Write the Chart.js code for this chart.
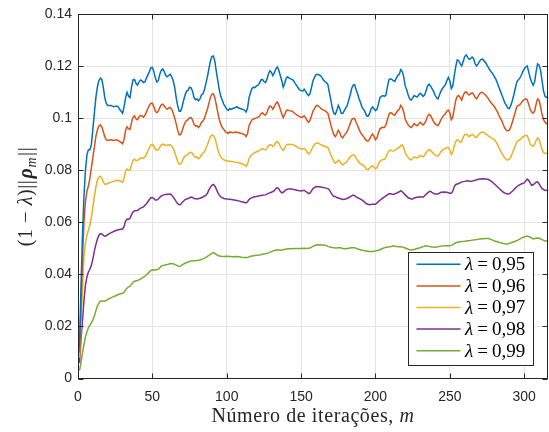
<!DOCTYPE html>
<html>
<head>
<meta charset="utf-8">
<title>Norma de ρ por iteração</title>
<script src="https://cdn.jsdelivr.net/npm/chart.js@4.4.1/dist/chart.umd.min.js"></script>
<style>
  html, body { margin: 0; padding: 0; background: #ffffff; }
  canvas { display: block; }
</style>
</head>
<body>
<canvas id="plot" width="549" height="432"></canvas>
<script>
// Forgetting factors shown in the legend
const lambdaLabels = ['0,95', '0,96', '0,97', '0,98', '0,99'];

// Tick values of both axes
const xTickValues = [0, 50, 100, 150, 200, 250, 300];
const yTickValues = [0, 0.02, 0.04, 0.06, 0.08, 0.1, 0.12, 0.14];

// (1 - lambda)·||rho_m|| against the iteration index m, as [m, value]
const lam95 = [[1,0.012],[2,0.035],[3,0.055],[4,0.070],[5,0.080],[6,0.086],[7,0.088],[8,0.088],[9,0.090],[10,0.096],[11,0.102],[12,0.108],[13,0.112],[14,0.1145],[15,0.1155],[16,0.115],[17,0.112],[18,0.108],[19,0.1058],[20,0.105],[22,0.105],[24,0.1045],[26,0.1048],[27,0.1045],[28,0.1035],[30,0.102],[31,0.1045],[32,0.108],[33,0.110],[34,0.1085],[35,0.108],[36,0.112],[37,0.1148],[38,0.115],[39,0.1135],[40,0.1128],[41,0.114],[42,0.1148],[43,0.1145],[44,0.1138],[45,0.114],[46,0.1155],[48,0.118],[49,0.1195],[50,0.1196],[51,0.118],[52,0.1155],[53,0.114],[54,0.1145],[55,0.117],[56,0.1185],[57,0.119],[58,0.118],[59,0.1165],[60,0.116],[61,0.1165],[62,0.117],[63,0.116],[64,0.1145],[65,0.112],[66,0.108],[67,0.105],[68,0.1028],[69,0.1028],[70,0.1045],[71,0.107],[72,0.109],[73,0.1105],[74,0.1108],[75,0.112],[76,0.1118],[77,0.1105],[78,0.108],[79,0.1072],[80,0.1075],[81,0.1068],[82,0.1075],[83,0.109],[84,0.1095],[85,0.111],[86,0.1135],[87,0.116],[88,0.119],[89,0.122],[90,0.1238],[91,0.124],[92,0.122],[93,0.118],[94,0.1145],[95,0.111],[96,0.1085],[97,0.107],[98,0.1055],[99,0.1045],[100,0.1035],[101,0.1031],[102,0.1038],[103,0.1035],[104,0.1038],[106,0.1042],[107,0.1045],[108,0.104],[110,0.1036],[112,0.1032],[113,0.1025],[114,0.104],[115,0.108],[116,0.110],[117,0.1115],[118,0.112],[119,0.1118],[120,0.1125],[121,0.1128],[122,0.1135],[123,0.1148],[124,0.115],[125,0.1142],[126,0.1138],[127,0.115],[128,0.117],[129,0.1183],[130,0.1178],[131,0.1165],[132,0.1175],[133,0.119],[134,0.1198],[135,0.1185],[136,0.1165],[137,0.1145],[138,0.112],[139,0.1135],[140,0.1155],[141,0.116],[142,0.1155],[143,0.1152],[144,0.115],[145,0.1145],[146,0.1135],[147,0.1126],[148,0.1118],[149,0.111],[150,0.1107],[151,0.1105],[152,0.1112],[153,0.1105],[154,0.1095],[155,0.1088],[156,0.1095],[157,0.112],[158,0.1145],[159,0.1158],[160,0.1168],[161,0.117],[162,0.1168],[163,0.1164],[164,0.1158],[165,0.1148],[166,0.1142],[167,0.1138],[168,0.113],[169,0.11],[170,0.107],[171,0.104],[172,0.102],[173,0.1016],[174,0.103],[175,0.105],[176,0.1038],[177,0.102],[178,0.1019],[179,0.103],[180,0.104],[181,0.105],[182,0.107],[183,0.109],[184,0.1115],[185,0.1128],[186,0.113],[187,0.111],[188,0.1095],[189,0.1075],[190,0.106],[191,0.1042],[192,0.1035],[193,0.1025],[194,0.101],[195,0.1008],[196,0.1018],[197,0.1035],[198,0.1044],[199,0.1038],[200,0.103],[201,0.1035],[202,0.1055],[203,0.108],[204,0.1085],[205,0.1088],[206,0.1085],[207,0.109],[208,0.112],[209,0.1148],[210,0.1152],[211,0.115],[212,0.1145],[213,0.1142],[214,0.1155],[215,0.1165],[216,0.117],[217,0.1188],[218,0.118],[219,0.116],[220,0.1125],[221,0.111],[222,0.109],[223,0.1075],[224,0.107],[225,0.1078],[226,0.1088],[227,0.1085],[228,0.1082],[229,0.109],[230,0.1097],[231,0.1092],[232,0.1085],[233,0.109],[234,0.1105],[235,0.1125],[236,0.1132],[237,0.1125],[238,0.1115],[239,0.1105],[240,0.109],[241,0.108],[242,0.1075],[243,0.109],[244,0.1105],[245,0.1115],[246,0.1122],[247,0.113],[248,0.1145],[249,0.1158],[250,0.1145],[251,0.1115],[252,0.1125],[253,0.1165],[254,0.12],[255,0.1225],[256,0.1222],[257,0.121],[258,0.1202],[259,0.122],[260,0.1238],[261,0.1244],[262,0.1235],[263,0.1227],[264,0.123],[265,0.1236],[266,0.123],[267,0.121],[268,0.1202],[269,0.121],[270,0.122],[271,0.1227],[272,0.1228],[273,0.1222],[274,0.1215],[275,0.1205],[276,0.1195],[277,0.1185],[278,0.1178],[279,0.117],[280,0.116],[281,0.115],[282,0.1135],[283,0.112],[284,0.1105],[285,0.109],[286,0.1075],[287,0.106],[288,0.105],[289,0.104],[290,0.1038],[291,0.105],[292,0.1068],[293,0.109],[294,0.1115],[295,0.114],[296,0.1148],[297,0.1155],[298,0.1165],[299,0.118],[300,0.119],[301,0.1198],[302,0.1202],[303,0.118],[304,0.1155],[305,0.114],[306,0.1128],[307,0.114],[308,0.118],[309,0.121],[310,0.1205],[311,0.1185],[312,0.1145],[313,0.1105],[314,0.1085],[315,0.108],[316,0.1085]];

const lam96 = [[1,0.010],[2,0.028],[3,0.045],[4,0.060],[5,0.068],[6,0.072],[7,0.074],[8,0.077],[9,0.081],[10,0.085],[11,0.089],[12,0.093],[13,0.0955],[14,0.097],[15,0.0975],[16,0.0968],[17,0.095],[18,0.093],[19,0.0918],[20,0.0915],[22,0.0918],[24,0.0915],[26,0.0918],[28,0.0912],[30,0.0903],[31,0.092],[32,0.0955],[33,0.0968],[34,0.096],[35,0.0958],[36,0.0985],[37,0.1005],[38,0.101],[39,0.0998],[40,0.0995],[41,0.1005],[42,0.1012],[43,0.101],[44,0.1005],[45,0.1012],[46,0.1025],[47,0.1038],[48,0.105],[49,0.1058],[50,0.1058],[51,0.1045],[52,0.1028],[53,0.1022],[54,0.1028],[55,0.1042],[56,0.1052],[57,0.1055],[58,0.1048],[59,0.104],[60,0.1035],[61,0.104],[62,0.1042],[63,0.1035],[64,0.102],[65,0.1002],[66,0.098],[67,0.0955],[68,0.0937],[69,0.0938],[70,0.0952],[71,0.097],[72,0.0985],[73,0.0992],[74,0.0995],[75,0.1003],[76,0.1003],[77,0.0995],[78,0.0978],[79,0.097],[80,0.0972],[81,0.0965],[82,0.0972],[83,0.0985],[84,0.099],[85,0.1],[86,0.1018],[87,0.1035],[88,0.1058],[89,0.108],[90,0.1093],[91,0.1095],[92,0.108],[93,0.1052],[94,0.1022],[95,0.0995],[96,0.0978],[97,0.0965],[98,0.0958],[99,0.095],[100,0.0945],[101,0.0942],[102,0.0948],[104,0.0945],[106,0.0948],[108,0.0945],[110,0.0942],[112,0.0938],[113,0.093],[114,0.0942],[115,0.0972],[116,0.0985],[117,0.0995],[118,0.0998],[120,0.1002],[122,0.1008],[123,0.1018],[124,0.1022],[125,0.1015],[126,0.1012],[127,0.1022],[128,0.1038],[129,0.1048],[130,0.1045],[131,0.1035],[132,0.1045],[133,0.1058],[134,0.1063],[135,0.1052],[136,0.1035],[137,0.1018],[138,0.1003],[139,0.1015],[140,0.103],[141,0.1032],[142,0.103],[144,0.1028],[146,0.1018],[148,0.101],[150,0.1005],[151,0.1005],[152,0.101],[153,0.1003],[154,0.0992],[155,0.0985],[156,0.0992],[157,0.101],[158,0.1028],[159,0.1038],[160,0.1048],[161,0.105],[162,0.1046],[163,0.104],[164,0.1035],[166,0.103],[168,0.102],[169,0.0998],[170,0.0975],[171,0.0955],[172,0.0938],[173,0.093],[174,0.094],[175,0.0955],[176,0.0945],[177,0.093],[178,0.0925],[179,0.0935],[180,0.0942],[181,0.095],[182,0.0965],[183,0.098],[184,0.0995],[185,0.1],[186,0.1],[187,0.0985],[188,0.0972],[189,0.0958],[190,0.0945],[191,0.0937],[192,0.093],[193,0.0922],[194,0.0914],[195,0.0913],[196,0.092],[197,0.0932],[198,0.094],[199,0.0932],[200,0.0918],[201,0.0925],[202,0.0945],[203,0.096],[204,0.0964],[205,0.0966],[206,0.0965],[207,0.0975],[208,0.0995],[209,0.1015],[210,0.1022],[211,0.102],[212,0.1015],[213,0.1012],[214,0.1022],[215,0.103],[216,0.1035],[217,0.105],[218,0.1042],[219,0.1025],[220,0.0998],[221,0.0985],[222,0.0975],[223,0.0968],[224,0.0965],[225,0.0972],[226,0.098],[227,0.0975],[228,0.0972],[229,0.0978],[230,0.0985],[231,0.098],[232,0.0975],[233,0.098],[234,0.0992],[235,0.1008],[236,0.1016],[237,0.1012],[238,0.1],[239,0.0988],[240,0.098],[241,0.0975],[242,0.0972],[243,0.0982],[244,0.0995],[245,0.1005],[246,0.1012],[247,0.1018],[248,0.1028],[249,0.1032],[250,0.1022],[251,0.0995],[252,0.1005],[253,0.104],[254,0.107],[255,0.1085],[256,0.1088],[257,0.108],[258,0.107],[259,0.1088],[260,0.11],[261,0.1102],[262,0.1095],[263,0.109],[264,0.1095],[265,0.1098],[266,0.1092],[267,0.108],[268,0.1075],[269,0.1085],[270,0.1095],[271,0.11],[272,0.11],[273,0.1095],[274,0.109],[275,0.1083],[276,0.1075],[277,0.1065],[278,0.1058],[279,0.1052],[280,0.1045],[281,0.1035],[282,0.1025],[283,0.1012],[284,0.1],[285,0.099],[286,0.0975],[287,0.0962],[288,0.0955],[289,0.0952],[290,0.0955],[291,0.0968],[292,0.0985],[293,0.1005],[294,0.1025],[295,0.1045],[296,0.105],[297,0.1052],[298,0.106],[299,0.1068],[300,0.1072],[301,0.1075],[302,0.1072],[303,0.1055],[304,0.1035],[305,0.1025],[306,0.102],[307,0.1028],[308,0.1055],[309,0.1075],[310,0.107],[311,0.1045],[312,0.1015],[313,0.0995],[314,0.0985],[315,0.098],[316,0.0985]];

const lam97 = [[1,0.008],[2,0.02],[3,0.035],[4,0.047],[5,0.052],[6,0.055],[7,0.057],[8,0.059],[9,0.062],[10,0.066],[11,0.07],[12,0.0735],[13,0.0762],[14,0.0775],[15,0.0778],[16,0.077],[17,0.0755],[18,0.0748],[19,0.0747],[20,0.075],[22,0.0755],[24,0.0758],[26,0.0762],[28,0.076],[30,0.0755],[31,0.077],[32,0.0798],[33,0.0805],[34,0.08],[35,0.0802],[36,0.0822],[37,0.0838],[38,0.0843],[39,0.0838],[40,0.0838],[41,0.0843],[42,0.0848],[43,0.0846],[44,0.0848],[45,0.0852],[46,0.0862],[47,0.0875],[48,0.0888],[49,0.0898],[50,0.0901],[51,0.0893],[52,0.0882],[53,0.0878],[54,0.088],[55,0.089],[56,0.0898],[57,0.0901],[58,0.0899],[59,0.0896],[60,0.0897],[61,0.0899],[62,0.0898],[63,0.0893],[64,0.0885],[65,0.087],[66,0.0853],[67,0.0835],[68,0.0824],[69,0.0825],[70,0.0835],[71,0.0848],[72,0.0855],[73,0.0858],[74,0.0862],[75,0.0868],[76,0.087],[77,0.0865],[78,0.0855],[79,0.085],[80,0.0852],[81,0.0845],[82,0.085],[83,0.086],[84,0.0865],[85,0.0872],[86,0.0885],[87,0.0898],[88,0.0915],[89,0.093],[90,0.0936],[91,0.0935],[92,0.0925],[93,0.0905],[94,0.088],[95,0.0862],[96,0.0852],[97,0.0845],[98,0.0841],[100,0.0836],[102,0.0835],[104,0.0834],[106,0.0832],[108,0.083],[110,0.0826],[112,0.0822],[113,0.0816],[114,0.0825],[115,0.0845],[116,0.0855],[117,0.0862],[118,0.0866],[120,0.0872],[122,0.0876],[123,0.0882],[124,0.0884],[125,0.088],[126,0.0879],[127,0.0885],[128,0.0894],[129,0.0899],[130,0.0898],[131,0.0892],[132,0.0898],[133,0.0907],[134,0.0911],[135,0.0905],[136,0.0893],[137,0.0882],[138,0.0877],[139,0.0887],[140,0.0898],[141,0.0901],[142,0.09],[144,0.09],[146,0.0895],[148,0.0888],[150,0.0882],[151,0.0882],[152,0.0885],[153,0.088],[154,0.087],[155,0.0864],[156,0.0868],[157,0.088],[158,0.0892],[159,0.09],[160,0.0905],[161,0.0906],[162,0.0903],[163,0.09],[164,0.0897],[166,0.0893],[168,0.0888],[169,0.0875],[170,0.086],[171,0.0848],[172,0.0835],[173,0.0828],[174,0.0832],[175,0.084],[176,0.0835],[177,0.0826],[178,0.0821],[179,0.0826],[180,0.083],[181,0.0835],[182,0.0845],[183,0.0852],[184,0.0858],[185,0.086],[186,0.0857],[187,0.0848],[188,0.0838],[189,0.083],[190,0.0825],[191,0.0822],[192,0.082],[193,0.0812],[194,0.0805],[195,0.0804],[196,0.0808],[197,0.0815],[198,0.0818],[199,0.0812],[200,0.0806],[201,0.081],[202,0.0825],[203,0.0835],[204,0.084],[205,0.0842],[206,0.0842],[207,0.085],[208,0.0865],[209,0.0875],[210,0.0878],[211,0.0876],[212,0.0875],[213,0.0876],[214,0.0882],[215,0.0886],[216,0.0888],[217,0.0896],[218,0.0898],[219,0.0888],[220,0.0868],[221,0.0858],[222,0.085],[223,0.0843],[224,0.0841],[225,0.0846],[226,0.0852],[227,0.085],[228,0.0848],[229,0.0852],[230,0.0858],[231,0.0855],[232,0.0852],[233,0.0858],[234,0.0868],[235,0.0876],[236,0.088],[237,0.0878],[238,0.0871],[239,0.0864],[240,0.086],[241,0.0857],[242,0.0855],[243,0.0862],[244,0.0872],[245,0.0878],[246,0.0882],[247,0.0885],[248,0.0888],[249,0.0888],[250,0.0878],[251,0.0862],[252,0.087],[253,0.0895],[254,0.0912],[255,0.0918],[256,0.0915],[257,0.0908],[258,0.0912],[259,0.0928],[260,0.0938],[261,0.094],[262,0.0935],[263,0.093],[264,0.0935],[265,0.0938],[266,0.0935],[267,0.0928],[268,0.0928],[269,0.0935],[270,0.0942],[271,0.0946],[272,0.0948],[273,0.0946],[274,0.0942],[275,0.0938],[276,0.0932],[277,0.0928],[278,0.0925],[279,0.0922],[280,0.0918],[281,0.091],[282,0.09],[283,0.0888],[284,0.0876],[285,0.0866],[286,0.0856],[287,0.0848],[288,0.0842],[289,0.084],[290,0.0843],[291,0.0852],[292,0.0866],[293,0.088],[294,0.0895],[295,0.091],[296,0.0915],[297,0.0918],[298,0.0922],[299,0.0928],[300,0.0932],[301,0.0935],[302,0.0934],[303,0.092],[304,0.0902],[305,0.0895],[306,0.0893],[307,0.09],[308,0.0915],[309,0.0925],[310,0.092],[311,0.09],[312,0.088],[313,0.0868],[314,0.0865],[315,0.0866],[316,0.087]];

const lam98 = [[1,0.006],[2,0.015],[3,0.022],[4,0.03],[5,0.036],[6,0.039],[7,0.041],[8,0.042],[9,0.0435],[10,0.046],[11,0.049],[12,0.0515],[13,0.0535],[14,0.055],[15,0.0557],[16,0.0556],[17,0.055],[18,0.0547],[19,0.0549],[20,0.0553],[22,0.056],[24,0.0565],[26,0.057],[28,0.0573],[30,0.0575],[31,0.0585],[32,0.0605],[33,0.0613],[34,0.0612],[35,0.0616],[36,0.063],[37,0.064],[38,0.0645],[40,0.0646],[42,0.0655],[44,0.066],[46,0.0672],[48,0.0688],[49,0.0695],[50,0.0696],[51,0.0692],[52,0.0686],[53,0.0686],[54,0.069],[56,0.0702],[58,0.0707],[60,0.0708],[62,0.0709],[63,0.0705],[64,0.0698],[65,0.069],[66,0.068],[67,0.0672],[68,0.0668],[69,0.0669],[70,0.0677],[72,0.0688],[74,0.0692],[76,0.0698],[77,0.0696],[78,0.0692],[80,0.069],[82,0.0693],[84,0.0698],[86,0.0705],[87,0.0712],[88,0.0725],[89,0.0735],[90,0.0743],[91,0.0746],[92,0.074],[93,0.0728],[94,0.0715],[95,0.0705],[96,0.0698],[98,0.0692],[100,0.069],[102,0.0689],[104,0.0687],[106,0.0685],[108,0.0683],[110,0.068],[112,0.0677],[113,0.0675],[114,0.068],[115,0.0688],[116,0.0693],[118,0.0698],[120,0.07],[122,0.0703],[124,0.0705],[126,0.0706],[128,0.0712],[130,0.0716],[132,0.0722],[133,0.073],[134,0.0734],[135,0.073],[136,0.072],[137,0.0714],[138,0.0716],[140,0.0726],[142,0.073],[144,0.0728],[146,0.0726],[148,0.0723],[150,0.0721],[152,0.0724],[154,0.0716],[155,0.0711],[156,0.0713],[158,0.073],[160,0.0738],[162,0.0737],[164,0.0735],[166,0.0733],[168,0.073],[169,0.0725],[170,0.0715],[171,0.0706],[172,0.07],[173,0.07],[174,0.0696],[176,0.0692],[178,0.0688],[180,0.069],[182,0.0695],[184,0.0702],[185,0.0705],[186,0.0703],[188,0.0695],[190,0.069],[192,0.0682],[194,0.0672],[196,0.0668],[198,0.067],[200,0.067],[202,0.068],[204,0.069],[206,0.0698],[208,0.0706],[209,0.071],[210,0.071],[212,0.0708],[214,0.0712],[216,0.0718],[217,0.0722],[218,0.0718],[220,0.0706],[222,0.0695],[224,0.069],[225,0.069],[226,0.0694],[228,0.0697],[230,0.0699],[232,0.0697],[234,0.0708],[236,0.0718],[237,0.072],[238,0.0716],[240,0.0709],[242,0.0709],[244,0.0716],[246,0.0717],[248,0.0716],[250,0.0712],[251,0.0712],[252,0.072],[253,0.0738],[254,0.0746],[256,0.075],[258,0.0756],[260,0.0758],[262,0.076],[264,0.0758],[266,0.076],[268,0.0764],[270,0.0767],[272,0.0768],[274,0.0767],[276,0.0765],[278,0.0758],[280,0.0748],[282,0.0737],[284,0.0726],[286,0.0716],[288,0.071],[289,0.0709],[290,0.071],[292,0.072],[294,0.0732],[296,0.0742],[298,0.0748],[300,0.0752],[302,0.0767],[303,0.0762],[304,0.0752],[305,0.0743],[306,0.0745],[308,0.0755],[309,0.0756],[310,0.0748],[312,0.073],[314,0.0723],[316,0.0725]];

const lam99 = [[1,0.003],[2,0.006],[3,0.010],[4,0.013],[5,0.016],[6,0.018],[7,0.0195],[8,0.0205],[9,0.0215],[10,0.0225],[11,0.024],[12,0.026],[13,0.0278],[14,0.029],[15,0.0297],[16,0.0298],[17,0.0298],[18,0.0298],[19,0.03],[20,0.0303],[22,0.031],[24,0.0315],[26,0.032],[28,0.0325],[30,0.0328],[31,0.0332],[32,0.034],[33,0.0348],[34,0.0352],[35,0.0355],[36,0.0362],[37,0.037],[38,0.0374],[40,0.0377],[42,0.0382],[44,0.039],[46,0.0398],[48,0.041],[49,0.0415],[50,0.0418],[52,0.0417],[54,0.042],[56,0.0432],[58,0.0436],[60,0.0438],[62,0.0442],[64,0.0441],[66,0.0436],[68,0.0431],[69,0.0432],[70,0.0437],[72,0.0443],[74,0.0448],[76,0.0452],[78,0.0453],[80,0.0454],[82,0.0456],[84,0.046],[86,0.0466],[88,0.0473],[90,0.0481],[91,0.0484],[92,0.0481],[94,0.0473],[96,0.047],[98,0.0469],[100,0.047],[102,0.0469],[104,0.0468],[106,0.0469],[108,0.0468],[110,0.0466],[112,0.0465],[114,0.0465],[116,0.047],[118,0.0472],[120,0.0474],[122,0.0475],[124,0.0478],[126,0.048],[128,0.0483],[130,0.0488],[132,0.0492],[134,0.0495],[136,0.0493],[138,0.0495],[140,0.0498],[142,0.0499],[144,0.0499],[146,0.05],[148,0.05],[150,0.05],[152,0.0501],[154,0.05],[156,0.0502],[158,0.0508],[160,0.0513],[162,0.0514],[164,0.0513],[166,0.0512],[168,0.0508],[170,0.0505],[172,0.0503],[174,0.0502],[176,0.0504],[178,0.05],[180,0.0499],[182,0.0501],[184,0.0503],[186,0.0503],[188,0.0498],[190,0.0495],[192,0.0492],[194,0.049],[196,0.0488],[198,0.0488],[200,0.049],[202,0.0493],[204,0.0498],[206,0.0503],[208,0.0506],[210,0.0507],[212,0.051],[214,0.0508],[216,0.0507],[218,0.0506],[220,0.0502],[222,0.0497],[224,0.0494],[226,0.0496],[228,0.05],[230,0.0503],[232,0.0507],[234,0.051],[236,0.0508],[238,0.0506],[240,0.0505],[242,0.0507],[244,0.0509],[246,0.051],[248,0.051],[250,0.051],[252,0.0515],[254,0.0522],[256,0.0525],[258,0.0527],[260,0.0528],[262,0.053],[264,0.0531],[266,0.0533],[268,0.0534],[270,0.0536],[272,0.0537],[274,0.0538],[276,0.0538],[278,0.0534],[280,0.0529],[282,0.0526],[284,0.0522],[286,0.0519],[288,0.0517],[290,0.0519],[292,0.0524],[294,0.0528],[296,0.0533],[298,0.054],[300,0.0544],[302,0.0548],[304,0.0544],[306,0.0537],[308,0.0539],[310,0.054],[312,0.0534],[314,0.0529],[316,0.053]];

const seriesData = [lam95, lam96, lam97, lam98, lam99];
const seriesColors = ['#0072BD', '#D95319', '#EDB120', '#7E2F8E', '#77AC30'];

const INK = '#262626';
const GRID = '#e4e4e4';
const SERIF = '"Liberation Serif", "DejaVu Serif", serif';
const SANS = '"Liberation Sans", Arial, sans-serif';

// Draws a row of text pieces with their own fonts, starting at x on one baseline
function drawRuns(ctx, runs, x, y, align) {
  let total = 0;
  runs.forEach(r => { ctx.font = r.font; total += ctx.measureText(r.text).width + (r.gap || 0); });
  let cx = align === 'center' ? x - total / 2 : x;
  runs.forEach(r => {
    ctx.font = r.font;
    ctx.fillText(r.text, cx, y + (r.dy || 0));
    cx += ctx.measureText(r.text).width + (r.gap || 0);
  });
}

// Axes box, inward tick marks, axis titles and the legend
const framePlugin = {
  id: 'frame',
  afterDraw(chart) {
    const { ctx, chartArea: a, scales } = chart;
    const L = Math.round(a.left) + 0.5, R = Math.round(a.right) - 0.5;
    const T = Math.round(a.top) + 0.5, B = Math.round(a.bottom) - 0.5;
    ctx.save();
    ctx.strokeStyle = INK;
    ctx.lineWidth = 1;
    ctx.strokeRect(L, T, R - L, B - T);

    const tick = 5;
    ctx.beginPath();
    xTickValues.forEach(v => {
      const px = Math.round(scales.x.getPixelForValue(v)) + 0.5;
      ctx.moveTo(px, B); ctx.lineTo(px, B - tick);
      ctx.moveTo(px, T); ctx.lineTo(px, T + tick);
    });
    yTickValues.forEach(v => {
      const py = Math.round(scales.y.getPixelForValue(v)) + 0.5;
      ctx.moveTo(L, py); ctx.lineTo(L + tick, py);
      ctx.moveTo(R, py); ctx.lineTo(R - tick, py);
    });
    ctx.stroke();

    // x-axis title
    ctx.fillStyle = INK;
    ctx.textBaseline = 'alphabetic';
    ctx.letterSpacing = '0.6px';
    drawRuns(ctx, [
      { text: 'Número de iterações, ', font: `20px ${SERIF}` },
      { text: 'm', font: `italic 20px ${SERIF}` }
    ], (a.left + a.right) / 2, 421.5, 'center');

    // y-axis title, rotated
    ctx.save();
    ctx.translate(32, (a.top + a.bottom) / 2);
    ctx.rotate(-Math.PI / 2);
    drawRuns(ctx, [
      { text: '(1 − ', font: `20px ${SERIF}` },
      { text: 'λ', font: `italic 20px ${SERIF}` },
      { text: ')||', font: `20px ${SERIF}`, gap: 1 },
      { text: 'ρ', font: `italic bold 20px ${SERIF}` },
      { text: 'm', font: `italic 14px ${SERIF}`, dy: 4, gap: 1 },
      { text: '||', font: `20px ${SERIF}` }
    ], 0, 0, 'center');
    ctx.restore();
    ctx.letterSpacing = '0px';

    // legend
    const box = { x: 408.5, y: 252.5, w: 125, h: 113 };
    ctx.fillStyle = '#ffffff';
    ctx.fillRect(box.x, box.y, box.w, box.h);
    ctx.strokeStyle = INK;
    ctx.strokeRect(box.x, box.y, box.w, box.h);
    chart.data.datasets.forEach((ds, i) => {
      const cy = 264.3 + i * 21.6;
      ctx.strokeStyle = ds.borderColor;
      ctx.lineWidth = 1.5;
      ctx.beginPath();
      ctx.moveTo(416.5, cy); ctx.lineTo(460.5, cy);
      ctx.stroke();
      ctx.fillStyle = '#000000';
      ctx.textBaseline = 'middle';
      drawRuns(ctx, [
        { text: 'λ', font: `italic 19px ${SERIF}`, gap: 4 },
        { text: '=', font: `19px ${SERIF}`, gap: 4 },
        { text: lambdaLabels[i], font: `19px ${SERIF}` }
      ], 465, cy + 1, 'left');
    });
    ctx.restore();
  }
};

new Chart(document.getElementById('plot'), {
  type: 'line',
  data: {
    datasets: seriesData.map((d, i) => ({
      label: 'λ = ' + lambdaLabels[i],
      data: d,
      borderColor: seriesColors[i],
      backgroundColor: seriesColors[i],
      borderWidth: 1.5,
      pointRadius: 0,
      tension: 0,
      fill: false
    }))
  },
  options: {
    responsive: false,
    animation: false,
    devicePixelRatio: 1,
    layout: { padding: { left: 0, right: 1, top: 9.5, bottom: 0 } },
    scales: {
      x: {
        type: 'linear',
        min: 0,
        max: 316,
        ticks: { stepSize: 50, color: INK, padding: 10, maxRotation: 0, font: { family: SANS, size: 14 } },
        grid: { color: GRID, drawTicks: false },
        border: { display: false },
        afterBuildTicks: s => { s.ticks = xTickValues.map(v => ({ value: v })); },
        afterFit: s => { s.height = 53.5; }
      },
      y: {
        type: 'linear',
        min: 0,
        max: 0.14,
        ticks: {
          color: INK, padding: 6, font: { family: SANS, size: 14 },
          callback: v => String(+v.toFixed(2))
        },
        grid: { color: GRID, drawTicks: false },
        border: { display: false },
        afterBuildTicks: s => { s.ticks = yTickValues.map(v => ({ value: v })); },
        afterFit: s => { s.width = 78; }
      }
    },
    plugins: { legend: { display: false }, tooltip: { enabled: false } }
  },
  plugins: [framePlugin]
});
</script>
</body>
</html>
